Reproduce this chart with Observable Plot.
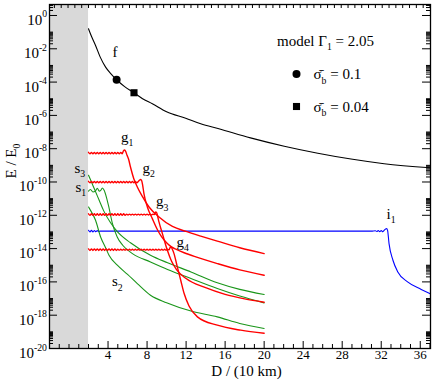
<!DOCTYPE html>
<html><head><meta charset="utf-8">
<script src="https://cdn.jsdelivr.net/npm/d3@7"></script>
<script src="https://cdn.jsdelivr.net/npm/@observablehq/plot@0.6"></script>
<style>html,body{margin:0;padding:0;background:#fff}svg{display:block}</style>
</head><body><div id="chart"></div>
<script>
// ---------- data (log10 of E/E0 versus D in units of 10 km) ----------
const shade = [-2, 2];
const xMajor = [4, 8, 12, 16, 20, 24, 28, 32, 36];
const yMajorExp = [0, -2, -4, -6, -8, -10, -12, -14, -16, -18, -20];
const yMinorMult = [2, 3, 4, 5, 6, 7, 8, 9, 10];
const topTickStart = -1.5, topTickStep = 0.7;

const fD   = [2.0, 2.3, 2.72, 3.2, 3.75, 4.3, 4.88, 5.7, 6.66, 7.5, 8.54, 10.0, 11.96, 13.5, 15.36, 18.6, 22.06, 25.5, 28.9, 32.3, 37.05];
const fLog = [-0.8, -1.25, -1.8, -2.5, -3.1, -3.5, -3.86, -4.27, -4.64, -4.98, -5.3, -5.78, -6.17, -6.5, -6.8, -7.35, -7.85, -8.27, -8.62, -8.9, -9.15];

const markerD = [4.88, 6.66];
const markerLog = [-3.86, -4.64];
const markerSymbol = ["circle", "square"];

const rippleD = [2.00, 2.15, 2.30, 2.45, 2.60, 2.75, 2.90, 3.05, 3.20, 3.35, 3.50, 3.65, 3.80, 3.95, 4.10, 4.25, 4.40, 4.55, 4.70, 4.85, 5.00, 5.15, 5.30, 5.45, 5.60, 5.75, 5.90, 6.05, 6.20, 6.35, 6.50, 6.65, 6.80, 6.95, 7.10, 7.25, 7.40, 7.55, 7.70, 7.85, 8.00, 8.15, 8.30, 8.45, 8.60, 8.75, 8.90, 9.05, 9.20, 9.35, 9.50, 9.65, 9.80, 9.95, 10.10, 10.25];

const g1Flat = [-8.22,-8.31,-8.22,-8.31,-8.22,-8.31,-8.22,-8.31,-8.22,-8.31,-8.22,-8.31,-8.22,-8.31,-8.22,-8.31,-8.22,-8.31,-8.22,-8.31,-8.22,-8.31,-8.22,-8.30];
const g1Tail = [[5.58,-8.13],[5.70,-8.08],[5.82,-8.18],[5.95,-8.40],[6.10,-8.62],[6.30,-9.10],[6.64,-9.80],[7.00,-10.30],[7.50,-10.85],[8.20,-11.50],[9.22,-12.10],[10.60,-12.67],[12.00,-12.97],[13.50,-13.25],[15.20,-13.55],[17.50,-13.95],[20.00,-14.30]];

const g2Flat = [-9.96,-10.05,-9.96,-10.05,-9.96,-10.05,-9.96,-10.05,-9.96,-10.05,-9.96,-10.05,-9.96,-10.05,-9.96,-10.05,-9.96,-10.05,-9.96,-10.05,-9.96,-10.05,-9.96,-10.05,-9.96,-10.05,-9.96,-10.05,-9.96,-10.05,-9.96,-10.05,-9.96,-10.05,-9.97];
const g2Tail = [[7.22,-9.90],[7.34,-9.85],[7.45,-9.93],[7.55,-10.20],[7.68,-10.70],[8.03,-11.50],[8.54,-12.20],[9.05,-12.85],[9.50,-13.30],[10.00,-13.65],[10.50,-13.90],[11.00,-14.05],[11.80,-14.25],[13.00,-14.50],[15.20,-14.90],[17.50,-15.28],[20.00,-15.60]];

const g3Flat = [-11.91,-12.00,-11.91,-12.00,-11.91,-12.00,-11.91,-12.00,-11.91,-12.00,-11.91,-12.00,-11.91,-12.00,-11.91,-12.00,-11.91,-12.00,-11.91,-12.00,-11.91,-12.00,-11.91,-12.00,-11.91,-12.00,-11.93,-11.98,-11.93,-11.98,-11.93,-11.98,-11.93,-11.98,-11.93,-11.98,-11.93,-11.98,-11.93,-11.98,-11.93,-11.98,-11.93,-11.98,-11.93,-11.96];
const g3Tail = [[8.88,-11.80],[8.98,-11.84],[9.10,-12.10],[9.22,-12.40],[9.57,-13.10],[10.08,-14.10],[10.50,-14.75],[11.00,-15.25],[12.00,-15.80],[14.00,-16.35],[16.00,-16.75],[18.00,-17.02],[20.00,-17.22]];

const g4Flat = [-14.02,-14.11,-14.02,-14.11,-14.02,-14.11,-14.02,-14.11,-14.02,-14.11,-14.02,-14.11,-14.02,-14.11,-14.02,-14.11,-14.02,-14.11,-14.02,-14.11,-14.04,-14.09,-14.04,-14.09,-14.04,-14.09,-14.04,-14.09,-14.04,-14.09,-14.04,-14.09,-14.04,-14.09,-14.04,-14.09,-14.04,-14.09,-14.04,-14.09,-14.04,-14.09,-14.04,-14.09,-14.04,-14.09,-14.04,-14.09,-14.04,-14.09,-14.04,-14.09,-14.04,-14.09,-14.04,-14.07];
const g4Tail = [[10.35,-13.95],[10.45,-13.90],[10.60,-14.05],[10.76,-14.30],[11.10,-15.10],[11.45,-15.90],[11.80,-16.70],[12.30,-17.45],[13.16,-18.10],[15.20,-18.60],[17.60,-18.90],[20.00,-19.08]];

const i1 = [[2.00,-12.90],[2.15,-13.00],[2.30,-12.90],[2.45,-13.00],[2.60,-12.91],[2.75,-12.99],[2.90,-12.92],[3.05,-12.98],[3.20,-12.95],[31.00,-12.95],[31.40,-12.93],[31.55,-12.97],[31.70,-12.92],[31.85,-12.98],[32.00,-12.91],[32.15,-12.99],[32.30,-12.90],[32.45,-12.82],[32.55,-12.80],[32.65,-12.90],[32.80,-13.70],[33.20,-14.70],[33.70,-15.40],[34.70,-16.00],[36.10,-16.45],[37.05,-16.72]];

const s3 = [[2.0,-9.6],[2.3,-10.0],[2.55,-10.35],[3.06,-11.05],[3.57,-11.75],[4.26,-12.45],[4.95,-12.98],[6.3,-13.65],[8.35,-14.4],[10.1,-14.85],[12.5,-15.4],[15.2,-16.05],[17.5,-16.45],[20,-16.76]];
const s1 = [[2.0,-10.55],[2.2,-10.45],[2.45,-10.6],[2.7,-10.55],[2.9,-10.38],[3.1,-10.55],[3.25,-10.5],[3.42,-10.36],[3.6,-10.5],[3.85,-10.95],[4.08,-11.5],[4.43,-12.45],[4.94,-13.3],[5.5,-13.8],[6.5,-14.3],[8.35,-14.8],[10.1,-15.25],[12.5,-15.8],[15.2,-16.4],[17.5,-16.85],[20,-17.26]];
const s2 = [[2.0,-11.5],[2.1,-11.6],[2.72,-12.3],[3.24,-13.3],[3.75,-13.95],[4.1,-14.4],[4.95,-15.0],[6.0,-15.55],[7.0,-16.1],[8.35,-16.8],[10,-17.25],[12.5,-17.75],[15.2,-18.1],[17.5,-18.5],[20,-18.8]];

// ---------- build tables ----------
const rows = (name, pairs) => pairs.map(([D, l]) => ({curve: name, D, E: 10 ** l}));
const flat = (vals) => vals.map((v, i) => [rippleD[i], v]);
const fRows = rows("f", fD.map((d, i) => [d, fLog[i]]));
const redRows = [
  ...rows("g1", flat(g1Flat).concat(g1Tail)),
  ...rows("g2", flat(g2Flat).concat(g2Tail)),
  ...rows("g3", flat(g3Flat).concat(g3Tail)),
  ...rows("g4", flat(g4Flat).concat(g4Tail))
];
const greenRows = [...rows("s1", s1), ...rows("s2", s2), ...rows("s3", s3)];
const blueRows = rows("i1", i1);
const markerRows = markerD.map((d, i) => ({D: d, E: 10 ** markerLog[i], symbol: markerSymbol[i]}));

// ---------- layout ----------
const W = 436, H = 381;
const M = {left: 49, right: 6, top: 4, bottom: 33};
const FW = W - M.left - M.right, FH = H - M.top - M.bottom;
const yTop = 10 ** 0.66;
const xMinor = d3.range(-1, 38).filter(v => !xMajor.includes(v));
const xTop = d3.range(topTickStart, 37.05, topTickStep);
const yMajor = yMajorExp.map(e => 10 ** e);
const yMinor = yMajorExp.flatMap(e => yMinorMult.map(k => k * 10 ** e)).filter(v => v <= yTop);
const FONT = "'Liberation Serif', 'Times New Roman', serif";
const pos = (px, py) => ({frameAnchor: "top-left", dx: px - M.left, dy: py - M.top});

const chart = Plot.plot({
  width: W, height: H,
  marginLeft: M.left, marginRight: M.right, marginTop: M.top, marginBottom: M.bottom,
  style: {fontFamily: FONT, fontSize: "15px", background: "#fff", color: "#000", overflow: "visible"},
  x: {domain: [-2, 37.05], axis: null},
  y: {type: "log", domain: [1e-20, yTop], axis: null},
  marks: [
    Plot.rect([shade], {x1: d => d[0], x2: d => d[1], fill: "#d9d9d9"}),
    Plot.line(blueRows, {x: "D", y: "E", z: "curve", stroke: "#0000ff", strokeWidth: 1.1, curve: "monotone-x", clip: true}),
    Plot.line(greenRows, {x: "D", y: "E", z: "curve", stroke: "#1a961a", strokeWidth: 1.1, curve: "monotone-x", clip: true}),
    Plot.line(redRows, {x: "D", y: "E", z: "curve", stroke: "#ff0000", strokeWidth: 1.4, curve: "monotone-x", clip: true}),
    Plot.line(fRows, {x: "D", y: "E", stroke: "#000", strokeWidth: 1.1, curve: "monotone-x", clip: true}),
    Plot.dot(markerRows, {x: "D", y: "E", symbol: "symbol", r: 4, fill: "#000", stroke: "none"}),
    Plot.frame({stroke: "#000", strokeWidth: 1.3}),
    // inward ticks
    Plot.tickX(xMajor, {x: d => d, insetTop: FH - 7, stroke: "#000"}),
    Plot.tickX(xMinor, {x: d => d, insetTop: FH - 4, stroke: "#000"}),
    Plot.tickX(xTop, {x: d => d, insetBottom: FH - 4, stroke: "#000"}),
    Plot.tickY(yMajor, {y: d => d, insetRight: FW - 8, stroke: "#000"}),
    Plot.tickY(yMinor, {y: d => d, insetRight: FW - 4, stroke: "#000"}),
    Plot.tickY(yMajor, {y: d => d, insetLeft: FW - 8, stroke: "#000"}),
    Plot.tickY(yMinor, {y: d => d, insetLeft: FW - 4, stroke: "#000"}),
    // tick labels
    Plot.text(xMajor, {x: d => d, frameAnchor: "bottom", text: d => String(d), lineAnchor: "bottom", dy: 10.5, fontSize: 13}),
    Plot.text(yMajorExp, {y: e => 10 ** e, frameAnchor: "left", text: e => `10^{${e}}`, textAnchor: "end", lineAnchor: "bottom", dx: -2.5, dy: 9.5, fontSize: 15}),
    // axis titles
    Plot.text(["D / (10 km)"], {frameAnchor: "bottom", dx: 6.5, dy: 27, lineAnchor: "bottom", fontSize: 15}),
    Plot.text(["E / E_{0}"], {frameAnchor: "left", rotate: -90, dx: -34, dy: 2, lineAnchor: "bottom", fontSize: 15}),
    // curve labels
    Plot.text(["f"], {...pos(112, 56.5), textAnchor: "start", lineAnchor: "bottom", fontSize: 15}),
    Plot.text(["g_{1}"], {...pos(120.5, 141), textAnchor: "start", lineAnchor: "bottom", fontSize: 15}),
    Plot.text(["g_{2}"], {...pos(142, 172), textAnchor: "start", lineAnchor: "bottom", fontSize: 15}),
    Plot.text(["g_{3}"], {...pos(155.5, 205.5), textAnchor: "start", lineAnchor: "bottom", fontSize: 15}),
    Plot.text(["g_{4}"], {...pos(176, 246), textAnchor: "start", lineAnchor: "bottom", fontSize: 15}),
    Plot.text(["s_{3}"], {...pos(74, 172), textAnchor: "start", lineAnchor: "bottom", fontSize: 15}),
    Plot.text(["s_{1}"], {...pos(75, 191), textAnchor: "start", lineAnchor: "bottom", fontSize: 15}),
    Plot.text(["s_{2}"], {...pos(111.5, 285.5), textAnchor: "start", lineAnchor: "bottom", fontSize: 15}),
    Plot.text(["i_{1}"], {...pos(386, 218), textAnchor: "start", lineAnchor: "bottom", fontSize: 15}),
    // legend
    Plot.text(["model \u0393_{1} = 2.05"], {...pos(276.5, 45), textAnchor: "start", lineAnchor: "bottom", fontSize: 15}),
    Plot.dot(["circle"], {...pos(296, 73.5), symbol: d => d, r: 4, fill: "#000", stroke: "none"}),
    Plot.text(["\u03c3\u0304_{b} = 0.1"], {...pos(313, 78.5), textAnchor: "start", lineAnchor: "bottom", fontSize: 15}),
    Plot.dot(["square"], {...pos(296, 106), symbol: d => d, r: 4, fill: "#000", stroke: "none"}),
    Plot.text(["\u03c3\u0304_{b} = 0.04"], {...pos(313, 111), textAnchor: "start", lineAnchor: "bottom", fontSize: 15})
  ]
});
document.getElementById("chart").appendChild(chart);

// turn "_{..}" and "^{..}" into real sub/superscript tspans
(function richText(svg) {
  const NS = "http://www.w3.org/2000/svg";
  svg.querySelectorAll("text").forEach(t => {
    const s = t.textContent;
    if (!/[_^]\{/.test(s)) return;
    const fs = parseFloat(getComputedStyle(t).fontSize) || 15;
    while (t.firstChild) t.removeChild(t.firstChild);
    let shift = 0;
    for (const part of s.split(/([_^]\{[^}]*\})/)) {
      if (!part) continue;
      const m = part.match(/^([_^])\{([^}]*)\}$/);
      const span = document.createElementNS(NS, "tspan");
      const target = m ? (m[1] === "_" ? 0.3 * fs : -0.5 * fs) : 0;
      span.setAttribute("dy", target - shift);
      shift = target;
      if (m) span.setAttribute("font-size", 0.65 * fs);
      span.textContent = m ? m[2] : part;
      t.appendChild(span);
    }
  });
})(chart);
</script>
</body></html>
